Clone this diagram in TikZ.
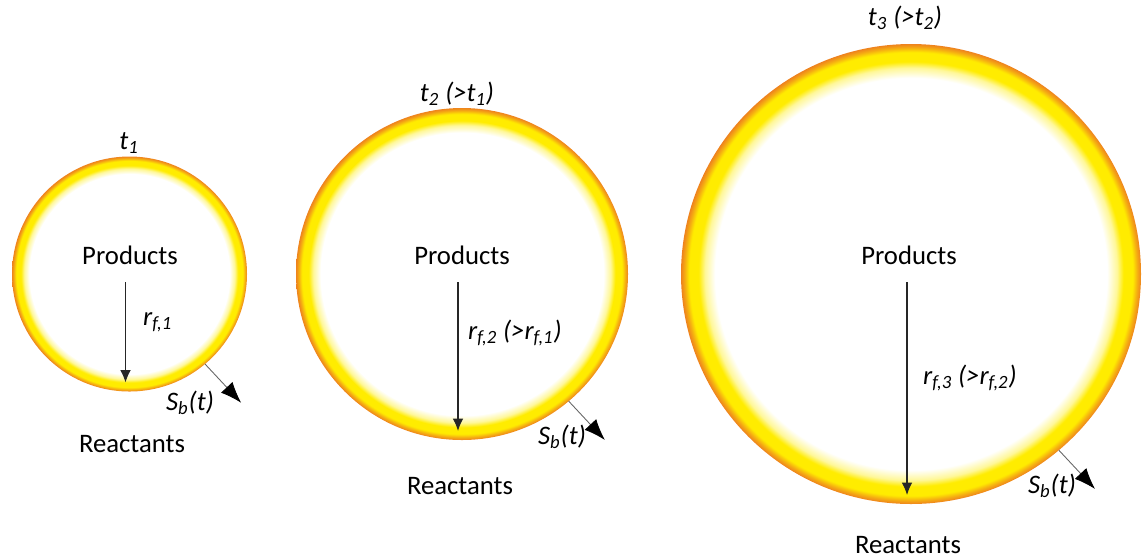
\documentclass[tikz,border=0pt]{standalone}
\usepackage{fontspec}
\setmainfont{Carlito}
\usepackage{xcolor}
\usetikzlibrary{arrows.meta}

\definecolor{ringyellow}{RGB}{255,236,0}
\definecolor{ringorange}{RGB}{238,130,30}

% burning front: white inside, yellow band, orange rim
\pgfdeclareradialshading{ring}{\pgfpointorigin}{%
  color(0bp)=(white); color(21.3bp)=(white);
  color(22.4bp)=(ringyellow!40!white); color(23.1bp)=(ringyellow);
  color(24.1bp)=(ringyellow); color(24.6bp)=(ringorange!60!ringyellow);
  color(25bp)=(ringorange); color(50bp)=(ringorange)}

\begin{document}
\begin{tikzpicture}[x=0.02cm, y=-0.02cm, font=\fontsize{15.2}{18}\selectfont,
    rarrow/.style={-{Latex[length=7pt,width=6pt]}, line width=0.7pt, black!85},
    sarrow/.style={-{Latex[length=12pt,width=9pt,black]}, line width=0.5pt, black!60},
    lbl/.style={font=\fontsize{15.2}{18}\selectfont\itshape, inner sep=1pt}]

    \useasboundingbox (0,0) rectangle (1142,559);

    % Draw the three fronts, the radius and the front velocity
    \foreach \n/\cx/\r in {1/129.5/117.5, 2/462/166, 3/911/230} {
        \shade[shading=ring] (\cx,274) circle (\r);

        % radius arrow from under the label down to the front
        \coordinate (top\n) at (\cx-4,282);
        \coordinate (bot\n) at (\cx-4,274+\r-9);
        \draw[rarrow] (top\n) -- (bot\n);

        % outward arrow on the front
        \path (\cx,274) ++(50:\r) coordinate (s\n) ++(47:53) coordinate (e\n);
        \draw[sarrow] (s\n) -- (e\n);
    }

    % First time
    \node[lbl] (t1) at (129,143) {t\textsubscript{1}};
    \node (prod1) at (130,255) {Products};
    \node[lbl, anchor=west] (rf1) at (141,322) {r\textsubscript{f,1}};
    \node[lbl] (sb1) at (190,403) {S\textsubscript{b}(t)};
    \node (reac1) at (132,444) {Reactants};

    % Second time
    \node[lbl] (t2) at (457,94) {t\textsubscript{2} (>t\textsubscript{1})};
    \node (prod2) at (462,255) {Products};
    \node[lbl, anchor=west] (rf2) at (466,333) {r\textsubscript{f,2} (>r\textsubscript{f,1})};
    \node[lbl] (sb2) at (562,437) {S\textsubscript{b}(t)};
    \node (reac2) at (460,486) {Reactants};

    % Third time
    \node[lbl] (t3) at (905,18) {t\textsubscript{3} (>t\textsubscript{2})};
    \node (prod3) at (909,255) {Products};
    \node[lbl, anchor=west] (rf3) at (921,378) {r\textsubscript{f,3} (>r\textsubscript{f,2})};
    \node[lbl] (sb3) at (1052,486) {S\textsubscript{b}(t)};
    \node[inner sep=1pt] (reac3) at (908,545) {Reactants};
\end{tikzpicture}
\end{document}
